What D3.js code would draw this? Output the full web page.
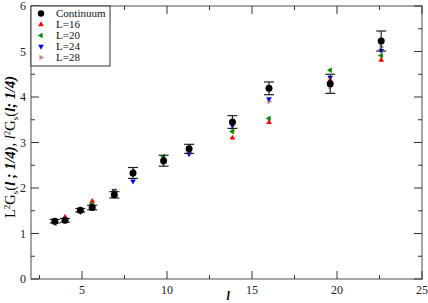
<!DOCTYPE html>
<html><head><meta charset="utf-8">
<script src="https://cdn.jsdelivr.net/npm/d3@7"></script>
<style>body{margin:0;background:#fff}svg{display:block}svg text, svg tspan{font-family:"Liberation Serif", "Times New Roman", Times, serif !important}</style>
</head><body><svg id="c" width="428" height="303"></svg>
<script>
const lValues   = [3.4, 4.0, 4.9, 5.6, 6.9, 8.0, 9.8, 11.3, 13.85, 16.0, 19.6, 22.6];
const continuum = [1.27, 1.29, 1.51, 1.57, 1.85, 2.33, 2.60, 2.86, 3.45, 4.19, 4.29, 5.23];
const contErr   = [0.04, 0.04, 0.04, 0.05, 0.07, 0.12, 0.12, 0.10, 0.14, 0.14, 0.21, 0.22];
const L16 = [1.25, 1.36, 1.52, 1.71, 1.90, 2.30, 2.62, 2.87, 3.10, 3.44, 4.37, 4.81];
const L20 = [1.22, 1.30, 1.50, 1.66, 1.93, 2.36, 2.69, 2.90, 3.24, 3.53, 4.59, 4.91];
const L24 = [1.26, 1.28, 1.48, 1.60, 1.94, 2.15, 2.56, 2.75, 3.37, 3.96, 4.43, 5.02];
const L28 = [1.26, 1.28, 1.52, 1.60, 1.85, 2.30, 2.57, 2.84, 3.26, 3.90, 4.23, 5.10];
const xTicks = [5, 10, 15, 20, 25];
const yTicks = [0, 1, 2, 3, 4, 5, 6];
const legendLabels = ["Continuum", "L=16", "L=20", "L=24", "L=28"];

const svg = d3.select("#c");
const x = d3.scaleLinear().domain([2, 25]).range([31, 422]);
const y = d3.scaleLinear().domain([0, 6]).range([279, 6]);
const frame = "#888";

svg.append("rect").attr("x", 31).attr("y", 6).attr("width", 391).attr("height", 273)
  .attr("fill", "none").attr("stroke", frame).attr("stroke-width", 1.5);

const xMinor = d3.range(2.5, 25, 5);
const yMinor = d3.range(0.5, 6, 1);
const g = svg.append("g").attr("stroke", "#333").attr("stroke-width", 1);
xTicks.forEach(v => {
  g.append("line").attr("x1", x(v)).attr("x2", x(v)).attr("y1", 279).attr("y2", 271);
  g.append("line").attr("x1", x(v)).attr("x2", x(v)).attr("y1", 6).attr("y2", 14);
});
xMinor.forEach(v => {
  g.append("line").attr("x1", x(v)).attr("x2", x(v)).attr("y1", 279).attr("y2", 275);
  g.append("line").attr("x1", x(v)).attr("x2", x(v)).attr("y1", 6).attr("y2", 10);
});
yTicks.forEach(v => {
  g.append("line").attr("x1", 31).attr("x2", 39).attr("y1", y(v)).attr("y2", y(v));
  g.append("line").attr("x1", 422).attr("x2", 414).attr("y1", y(v)).attr("y2", y(v));
});
yMinor.forEach(v => {
  g.append("line").attr("x1", 31).attr("x2", 35).attr("y1", y(v)).attr("y2", y(v));
  g.append("line").attr("x1", 422).attr("x2", 418).attr("y1", y(v)).attr("y2", y(v));
});

svg.append("g").selectAll("text").data(xTicks).join("text")
  .attr("x", d => x(d)).attr("y", 294).attr("text-anchor", "middle")
  .attr("font-size", 12).attr("fill", "#222").text(d => d);
svg.append("g").selectAll("text").data(yTicks).join("text")
  .attr("x", 26).attr("y", d => y(d) + 4).attr("text-anchor", "end")
  .attr("font-size", 12).attr("fill", "#222").text(d => d);

svg.append("text").attr("x", x(13.6)).attr("y", 300).attr("text-anchor", "middle")
  .attr("font-size", 12).attr("font-style", "italic").attr("font-weight", "bold").text("l");
const yl = svg.append("text").attr("transform", "translate(15,147) rotate(-90)")
  .attr("text-anchor", "middle").attr("font-size", 14.5);
yl.append("tspan").text("L");
yl.append("tspan").attr("font-size", 9).attr("dy", -5).text("2");
yl.append("tspan").attr("dy", 5).text("G");
yl.append("tspan").attr("font-size", 9).attr("dy", 3).text("s");
yl.append("tspan").attr("dy", -3).text("(");
yl.append("tspan").attr("font-style", "italic").attr("font-weight", "bold").text("l ; 1/4)");
yl.append("tspan").text(", ");
yl.append("tspan").attr("font-style", "italic").text("l");
yl.append("tspan").attr("font-size", 9).attr("dy", -5).text("2");
yl.append("tspan").attr("dy", 5).text("G");
yl.append("tspan").attr("font-size", 9).attr("dy", 3).text("s");
yl.append("tspan").attr("dy", -3).text("(");
yl.append("tspan").attr("font-style", "italic").attr("font-weight", "bold").text("l; 1/4)");

const tri = d3.symbol().type(d3.symbolTriangle).size(14);
const series = [
  {vals: L28, color: "#bc8f8f", rot: 90},
  {vals: L24, color: "#0000ff", rot: 180},
  {vals: L20, color: "#008b00", rot: -90},
  {vals: L16, color: "#ff0000", rot: 0}
];
series.forEach(s => {
  svg.append("g").selectAll("path").data(s.vals).join("path")
    .attr("d", tri)
    .attr("transform", (d, i) => `translate(${x(lValues[i])},${y(d)}) rotate(${s.rot})`)
    .attr("fill", s.color);
});

const eb = svg.append("g").attr("stroke", "#222").attr("stroke-width", 1.2);
continuum.forEach((v, i) => {
  const cx = x(lValues[i]);
  eb.append("line").attr("x1", cx).attr("x2", cx).attr("y1", y(v - contErr[i])).attr("y2", y(v + contErr[i]));
  [v - contErr[i], v + contErr[i]].forEach(e =>
    eb.append("line").attr("x1", cx - 5).attr("x2", cx + 5).attr("y1", y(e)).attr("y2", y(e)));
});
svg.append("g").selectAll("circle").data(continuum).join("circle")
  .attr("cx", (d, i) => x(lValues[i])).attr("cy", d => y(d)).attr("r", 3.5).attr("fill", "#000");

svg.append("rect").attr("x", 31).attr("y", 6).attr("width", 79).attr("height", 60)
  .attr("fill", "#fff").attr("stroke", "#333").attr("stroke-width", 1);
const legMarks = [
  {type: "circle", color: "#000", rot: 0},
  {type: "tri", color: "#ff0000", rot: 0},
  {type: "tri", color: "#008b00", rot: -90},
  {type: "tri", color: "#0000ff", rot: 180},
  {type: "tri", color: "#bc8f8f", rot: 90}
];
legendLabels.forEach((lab, i) => {
  const ly = 13.5 + i * 11;
  const m = legMarks[i];
  if (m.type === "circle") {
    svg.append("circle").attr("cx", 41).attr("cy", ly).attr("r", 3.2).attr("fill", m.color);
  } else {
    svg.append("path").attr("d", tri).attr("transform", `translate(41,${ly}) rotate(${m.rot})`).attr("fill", m.color);
  }
  svg.append("text").attr("x", 56).attr("y", ly + 3.5).attr("font-size", 11).attr("fill", "#111").text(lab);
});
</script></body></html>
